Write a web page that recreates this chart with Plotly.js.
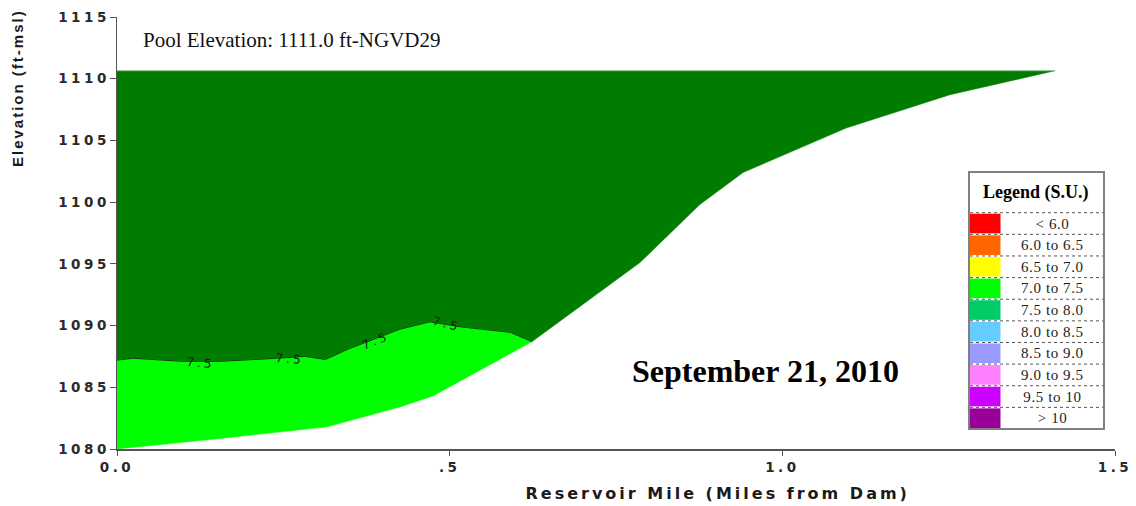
<!DOCTYPE html>
<html>
<head>
<meta charset="utf-8">
<script src="https://cdn.plot.ly/plotly-3.0.1.min.js"></script>
<style>
  html, body { margin: 0; padding: 0; background: #fff; }
  #chart { width: 1136px; height: 506px; }
  /* the axis numbers are set wide */
  #chart .xtick text, #chart .ytick text { letter-spacing: 3.5px; }
</style>
</head>
<body>
<div id="chart"></div>
<script>
// Reservoir cross-section: pH (S.U.) along the thalweg, September 21, 2010
const poolLabel = "Pool Elevation: 1111.0 ft-NGVD29";
const surveyDate = "September 21, 2010";
const surfaceElev = 1110.65;

// Reservoir bed profile (mile from dam, elevation ft)
const bedMile = [0.000, 0.039, 0.155, 0.316, 0.425, 0.475, 0.624, 0.786, 0.876, 0.941, 1.096, 1.252, 1.410];
const bedElev = [1080.0, 1080.2, 1080.85, 1081.8, 1083.4, 1084.3, 1088.7, 1095.1, 1099.8, 1102.4, 1106.0, 1108.7, 1110.65];

// 7.5 S.U. isoline (mile, elevation ft)
const contourMile = [0.000, 0.024, 0.099, 0.155, 0.240, 0.283, 0.313, 0.350, 0.425, 0.470, 0.516, 0.591, 0.624];
const contourElev = [1087.2, 1087.35, 1087.1, 1087.1, 1087.35, 1087.5, 1087.25, 1088.15, 1089.7, 1090.3, 1089.9, 1089.45, 1088.7];
const contourLevel = "7.5";

// Isoline label anchors (mile, elevation ft, angle)
const labelMile = [0.125, 0.260, 0.388, 0.495];
const labelElev = [1087.0, 1087.3, 1088.75, 1090.1];
const labelAngle = [5, 4, -22, 14];

// Legend classes
const legendLabels = ["< 6.0", "6.0 to 6.5", "6.5 to 7.0", "7.0 to 7.5", "7.5 to 8.0",
                      "8.0 to 8.5", "8.5 to 9.0", "9.0 to 9.5", "9.5 to 10", "> 10"];
const legendColors = ["#ff0000", "#ff6600", "#ffff00", "#00ff00", "#00cc66",
                      "#66ccff", "#9999ff", "#ff80ff", "#cc00ff", "#990099"];

// Axis ticks
const xTickVals = [0, 0.5, 1.0, 1.5];
const xTickText = ["0.0", ".5", "1.0", "1.5"];
const yTickVals = [1080, 1085, 1090, 1095, 1100, 1105, 1110, 1115];

// ---- polygons built from the profile and isoline ----
const iJoin = bedMile.indexOf(contourMile[contourMile.length - 1]);

// Upper zone (7.5–8.0): water surface, down the bed to the isoline, back along the isoline
const upperX = [0, bedMile[bedMile.length - 1]];
const upperY = [surfaceElev, surfaceElev];
for (let i = bedMile.length - 1; i >= iJoin; i--) { upperX.push(bedMile[i]); upperY.push(bedElev[i]); }
for (let i = contourMile.length - 1; i >= 0; i--) { upperX.push(contourMile[i]); upperY.push(contourElev[i]); }

// Lower zone (7.0–7.5): isoline out, then back along the bed
const lowerX = [], lowerY = [];
for (let i = 0; i < contourMile.length; i++) { lowerX.push(contourMile[i]); lowerY.push(contourElev[i]); }
for (let i = iJoin; i >= 0; i--) { lowerX.push(bedMile[i]); lowerY.push(bedElev[i]); }

const traces = [
  { x: upperX, y: upperY, type: "scatter", mode: "lines", fill: "toself",
    fillcolor: "#007d00", line: { color: "#007d00", width: 0.5 }, hoverinfo: "skip" },
  { x: lowerX, y: lowerY, type: "scatter", mode: "lines", fill: "toself",
    fillcolor: "#00ff00", line: { color: "#00ff00", width: 0.5 }, hoverinfo: "skip" },
  { x: contourMile, y: contourElev, type: "scatter", mode: "lines",
    line: { color: "#0b3d0b", width: 1 }, hoverinfo: "skip" },
  { x: [0, bedMile[bedMile.length - 1]], y: [surfaceElev, surfaceElev], type: "scatter", mode: "lines",
    line: { color: "#9fc79f", width: 1 }, hoverinfo: "skip" }
];

// ---- layout geometry ----
const W = 1136, H = 506;
const M = { l: 117, r: 21, t: 17, b: 57 };
const pw = W - M.l - M.r, ph = H - M.t - M.b;
const px = v => (v - M.l) / pw;           // page x -> paper
const py = v => (H - M.b - v) / ph;       // page y -> paper

const shapes = [];
const annotations = [];
const spacing = {};                        // annotation index -> letter spacing (px)
function addNote(note, letterSpacing) {
  if (letterSpacing) spacing[annotations.length] = letterSpacing;
  annotations.push(note);
}

const sans = "Liberation Sans, Arial, sans-serif";
const wide = "DejaVu Sans, Verdana, sans-serif";
const serif = "Liberation Serif, Times New Roman, serif";

// isoline labels
for (let i = 0; i < labelMile.length; i++) {
  addNote({ x: labelMile[i], y: labelElev[i], xref: "x", yref: "y", text: contourLevel,
    showarrow: false, textangle: labelAngle[i],
    font: { family: wide, size: 12, color: "#1a1a1a" } }, 3);
}

// text blocks
addNote({ x: px(141), y: py(40), xref: "paper", yref: "paper", xanchor: "left", yanchor: "middle",
  text: poolLabel, showarrow: false,
  font: { family: serif, size: 21, color: "#111" } });
addNote({ x: px(765), y: py(371), xref: "paper", yref: "paper", xanchor: "center", yanchor: "middle",
  text: "<b>" + surveyDate + "</b>", showarrow: false,
  font: { family: serif, size: 32, color: "#000" } });

// axis titles
addNote({ x: px(717), y: py(493), xref: "paper", yref: "paper", xanchor: "center", yanchor: "middle",
  text: "<b>Reservoir Mile (Miles from Dam)</b>", showarrow: false,
  font: { family: wide, size: 16, color: "#1a1a1a" } }, 3);
addNote({ x: px(17), y: py(88), xref: "paper", yref: "paper", xanchor: "center", yanchor: "middle",
  text: "<b>Elevation (ft-msl)</b>", showarrow: false, textangle: -90,
  font: { family: sans, size: 15, color: "#1a1a1a" } }, 2);

// legend table
const lgL = 969, lgR = 1104, lgT = 172, lgB = 429;
const rowTop = 212.7, rowH = (lgB - rowTop) / legendLabels.length;
shapes.push({ type: "rect", xref: "paper", yref: "paper", x0: px(lgL), x1: px(lgR), y0: py(lgB), y1: py(lgT),
  fillcolor: "#fff", line: { color: "#808080", width: 2 }, layer: "above" });
addNote({ x: px(1036), y: py(192.5), xref: "paper", yref: "paper", xanchor: "center", yanchor: "middle",
  text: "<b>Legend (S.U.)</b>", showarrow: false,
  font: { family: serif, size: 18, color: "#000" } });
for (let i = 0; i < legendLabels.length; i++) {
  const t = rowTop + i * rowH, b = t + rowH;
  shapes.push({ type: "rect", xref: "paper", yref: "paper", x0: px(970), x1: px(1000.5),
    y0: py(b - 1), y1: py(t + 1), fillcolor: legendColors[i], line: { width: 0 }, layer: "above" });
  shapes.push({ type: "line", xref: "paper", yref: "paper", x0: px(970), x1: px(1103),
    y0: py(t), y1: py(t), line: { color: "#555", width: 1, dash: "dot" }, layer: "above" });
  addNote({ x: px(1052), y: py(t + rowH / 2), xref: "paper", yref: "paper",
    xanchor: "center", yanchor: "middle", text: legendLabels[i], showarrow: false,
    font: { family: serif, size: 15, color: "#222" } }, 0.6);
}

// per-annotation letter spacing
const css = Object.keys(spacing).map(k =>
  `#chart g.annotation[data-index="${k}"] text { letter-spacing: ${spacing[k]}px; }`).join("\n");
const styleEl = document.createElement("style");
styleEl.textContent = css;
document.head.appendChild(styleEl);

const tickFont = { family: wide, size: 13.5, color: "#2a2a2a", weight: "bold" };

const layout = {
  width: W, height: H,
  margin: M,
  paper_bgcolor: "#fff", plot_bgcolor: "#fff",
  showlegend: false,
  xaxis: {
    range: [0, 1.5], tickvals: xTickVals, ticktext: xTickText,
    showgrid: false, zeroline: false, showline: true, linecolor: "#555", linewidth: 1.5,
    ticks: "outside", ticklen: 5, tickcolor: "#555", tickfont: tickFont, fixedrange: true
  },
  yaxis: {
    range: [1080, 1115], tickvals: yTickVals,
    showgrid: false, zeroline: false, showline: true, linecolor: "#555", linewidth: 1.5,
    ticks: "outside", ticklen: 6, tickcolor: "#555", tickfont: tickFont, fixedrange: true,
    ticklabelstandoff: -3
  },
  shapes: shapes,
  annotations: annotations
};

Plotly.newPlot("chart", traces, layout, { staticPlot: true, displayModeBar: false });
</script>
</body>
</html>
